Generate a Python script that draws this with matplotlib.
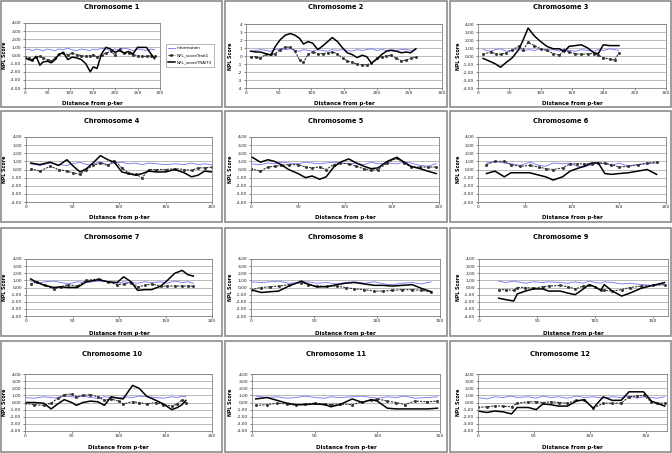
import matplotlib
matplotlib.use('Agg')
import matplotlib.pyplot as plt
from matplotlib.patches import Rectangle
from matplotlib.ticker import FuncFormatter, MultipleLocator

W, H = 672, 453

# ---- data ----
x_chr1 = [0, 8, 16, 25, 33, 40, 50, 58, 67, 75, 85, 95, 105, 115, 125, 135, 145, 152, 160, 170,
          180, 190, 200, 210, 220, 230, 240, 250, 260, 270, 280, 288]
info_chr1 = [0.7, 0.8, 0.6, 0.8, 0.7, 0.6, 0.8, 0.7, 0.6, 0.8, 0.7, 0.9, 0.7, 0.6, 0.8, 0.7, 0.6, 0.8, 0.7, 0.9,
             0.8, 0.6, 0.8, 0.7, 0.9, 0.8, 0.6, 0.8, 0.7, 0.6, 0.8, 0.7]
trait1_chr1 = [-0.2, -0.3, -0.5, -0.2, -0.1, -0.3, -0.5, -0.7, -0.3, 0.2, 0.3, 0.1, 0.3, 0.1, 0.0, -0.1, 0.0, 0.1, -0.2, 0.1,
               0.3, 0.5, 0.1, 0.8, 0.3, 0.3, 0.1, 0.0, -0.1, -0.1, 0.0, -0.1]
trait3_chr1 = [-0.3, -0.5, -0.6, -0.1, -1.2, -0.8, -0.7, -0.9, -0.5, 0.1, 0.4, -0.5, -0.2, -0.3, -0.5, -1.0, -2.0, -1.4, -1.6, 0.2,
               1.0, 0.8, 0.4, 0.6, 0.3, 0.5, 0.2, 1.0, 1.0, 1.0, 0.2, -0.4]

x_chr2 = [7, 15, 22, 30, 38, 45, 52, 60, 68, 75, 82, 88, 95, 102, 110, 118, 125, 132, 140, 148,
          155, 162, 170, 178, 185, 192, 200, 208, 215, 222, 230, 238, 245, 252, 260]
info_chr2 = [0.6, 0.7, 0.8, 0.7, 0.6, 0.8, 0.9, 0.8, 0.9, 0.7, 0.6, 0.8, 0.7, 0.6, 0.8, 0.7, 0.6, 0.8, 0.7, 0.8,
             0.7, 0.6, 0.8, 0.7, 0.8, 0.9, 0.7, 0.8, 0.7, 0.8, 0.7, 0.8, 0.8, 0.7, 0.8]
trait1_chr2 = [-0.1, -0.1, -0.3, 0.2, 0.2, 0.3, 0.8, 1.1, 1.1, 0.6, -0.5, -0.8, 0.2, 0.5, 0.3, 0.3, 0.4, 0.5, 0.3, -0.3,
               -0.6, -0.8, -1.0, -1.1, -1.1, -0.9, -0.3, -0.1, 0.0, 0.1, -0.3, -0.6, -0.5, -0.3, -0.1]
trait3_chr2 = [0.6, 0.5, 0.5, 0.3, 0.1, 1.2, 2.0, 2.6, 2.8, 2.6, 2.2, 1.5, 1.8, 1.6, 0.8, 1.3, 1.8, 2.3, 1.8, 1.0,
               0.4, 0.2, -0.2, 0.1, -0.1, -0.9, -0.4, 0.2, 0.6, 0.7, 0.6, 0.4, 0.5, 0.4, 0.9]

x_chr3 = [8, 20, 28, 36, 45, 55, 65, 72, 80, 90, 100, 110, 120, 130, 138, 145, 155, 165, 175, 185,
          192, 200, 210, 218, 225]
info_chr3 = [0.8, 0.6, 0.8, 0.9, 0.6, 0.7, 0.9, 0.6, 0.8, 0.7, 0.9, 0.7, 0.8, 0.6, 0.9, 0.7, 0.6, 0.8, 0.7, 0.6,
             0.8, 0.7, 0.9, 0.8, 0.7]
trait1_chr3 = [0.2, 0.5, 0.3, 0.2, 0.4, 0.8, 1.2, 0.8, 1.7, 1.3, 0.9, 0.7, 0.3, 0.1, 0.8, 0.5, 0.3, 0.2, 0.3, 0.3,
               0.1, -0.2, -0.4, -0.5, 0.4]
trait3_chr3 = [-0.3, -0.7, -1.0, -1.4, -0.8, -0.2, 0.8, 2.0, 3.5, 2.5, 1.8, 1.2, 0.9, 0.9, 0.5, 1.2, 1.3, 1.4, 1.0, 0.4,
               0.3, 1.4, 1.3, 1.3, 1.3]

x_chr4 = [5, 15, 26, 35, 44, 50, 58, 65, 72, 80, 88, 95, 103, 110, 118, 125, 132, 140, 150, 160,
          170, 178, 185, 192, 200]
info_chr4 = [0.7, 0.5, 0.8, 0.6, 0.5, 0.7, 0.9, 0.6, 0.7, 0.9, 0.6, 0.8, 0.9, 0.7, 0.8, 0.6, 0.8, 0.7, 0.6, 0.7,
             0.6, 0.8, 0.6, 0.7, 0.6]
trait1_chr4 = [0.1, -0.2, 0.4, 0.0, -0.2, -0.4, -0.6, 0.0, 0.5, 0.8, 0.5, 1.1, 0.2, -0.4, -0.6, -1.0, 0.0, 0.0, 0.0, 0.1,
               0.0, -0.1, 0.2, 0.2, 0.3]
trait3_chr4 = [0.8, 0.6, 0.9, 0.5, 1.2, 0.5, -0.3, 0.1, 0.8, 1.7, 1.2, 0.9, -0.3, -0.5, -0.7, -0.5, -0.2, -0.3, -0.3, 0.0,
               -0.4, -0.9, -0.7, -0.2, -0.3]

x_chr5 = [0, 10, 18, 25, 32, 40, 50, 58, 65, 73, 80, 88, 95, 104, 112, 120, 128, 135, 145, 155,
          163, 170, 180, 188, 197]
info_chr5 = [0.7, 0.6, 0.8, 0.7, 0.9, 0.8, 0.7, 0.9, 0.8, 0.7, 0.8, 0.9, 0.8, 0.7, 0.8, 0.6, 0.9, 0.7, 0.8, 0.7,
             0.9, 0.8, 0.5, 0.4, 0.7]
trait1_chr5 = [0.1, -0.2, 0.3, 0.4, 0.5, 0.6, 0.6, 0.3, 0.2, 0.3, 0.0, 0.6, 0.8, 0.7, 0.4, 0.1, -0.1, 0.0, 0.8, 1.4,
               0.8, 0.3, 0.3, 0.3, 0.3]
trait3_chr5 = [1.6, 0.9, 1.2, 1.0, 0.6, 0.0, -0.5, -1.0, -0.8, -1.2, -0.9, 0.3, 0.9, 1.3, 0.8, 0.4, 0.1, 0.2, 1.0, 1.5,
               0.9, 0.4, 0.1, -0.2, -0.5]

x_chr6 = [9, 18, 28, 35, 45, 55, 65, 72, 80, 90, 98, 105, 113, 121, 128, 135, 142, 150, 160, 170, 180, 190]
info_chr6 = [0.8, 1.0, 0.8, 0.7, 0.5, 0.9, 0.5, 0.4, 0.8, 0.7, 0.8, 0.4, 0.3, 0.6, 0.8, 0.7, 0.5, 0.8, 0.4, 0.6,
             0.7, 0.8]
trait1_chr6 = [0.6, 1.0, 1.0, 0.6, 0.4, 0.5, 0.3, 0.1, 0.0, 0.2, 0.7, 0.7, 0.7, 0.7, 0.8, 0.8, 0.6, 0.3, 0.4, 0.6,
               0.8, 0.9]
trait3_chr6 = [-0.5, -0.2, -0.9, -0.4, -0.4, -0.4, -0.7, -0.9, -1.3, -0.9, -0.2, 0.1, 0.4, 0.8, 0.8, -0.5, -0.6, -0.5,
               -0.4, -0.2, 0.0, -0.6]

x_chr7 = [5, 12, 20, 30, 38, 45, 55, 65, 78, 88, 98, 105, 113, 120, 128, 135, 145, 152, 160, 168, 174, 180]
info_chr7 = [0.9, 0.6, 0.8, 0.9, 0.7, 0.5, 0.8, 0.7, 0.9, 0.8, 0.6, 0.8, 0.7, 0.6, 0.8, 0.7, 0.8, 0.6, 0.9, 0.7,
             0.8, 0.6]
trait1_chr7 = [0.5, 0.8, 0.3, -0.2, 0.1, 0.4, 0.2, 1.0, 1.2, 0.8, 0.4, 0.5, 0.7, 0.1, 0.3, 0.5, 0.2, 0.2, 0.2, 0.2,
               0.2, 0.2]
trait3_chr7 = [1.2, 0.7, 0.3, 0.0, 0.1, 0.0, 0.0, 0.8, 1.1, 0.8, 0.7, 1.5, 0.8, -0.4, -0.3, -0.3, 0.2, 1.0, 2.0, 2.4,
               1.8, 1.6]

x_chr8 = [0, 8, 15, 22, 30, 40, 45, 52, 60, 68, 75, 82, 90, 98, 105, 112, 120, 128, 135, 143]
info_chr8 = [0.8, 0.7, 0.8, 0.9, 0.6, 0.7, 0.8, 0.6, 0.7, 0.5, 0.7, 0.8, 0.6, 0.8, 0.5, 0.4, 0.6, 0.7, 0.5, 0.8]
trait1_chr8 = [-0.3, 0.0, 0.1, 0.2, 0.4, 0.7, 0.4, 0.2, 0.2, 0.2, 0.0, -0.2, -0.3, -0.5, -0.5, -0.4, -0.3, -0.3,
               -0.4, -0.6]
trait3_chr8 = [-0.3, -0.7, -0.6, -0.5, 0.2, 0.9, 0.5, 0.1, 0.1, 0.4, 0.6, 0.7, 0.5, 0.3, 0.3, 0.2, 0.3, 0.4, -0.1, -0.6]

x_chr9 = [17, 23, 30, 33, 40, 47, 55, 60, 70, 77, 83, 90, 95, 100, 105, 108, 115, 123, 130, 140, 150, 160]
info_chr9 = [0.9, 0.7, 0.9, 0.8, 0.6, 0.8, 0.7, 0.8, 0.7, 0.6, 0.8, 0.6, 0.9, 0.7, 0.6, 0.8, 0.7, 0.5, 0.6, 0.4,
             0.3, 0.5]
trait1_chr9 = [-0.3, -0.3, -0.4, 0.0, 0.0, -0.1, 0.1, 0.2, 0.3, 0.1, -0.2, 0.2, 0.3, 0.1, -0.3, -0.4, -0.5, -0.3, 0.0,
               0.2, 0.3, 0.4]
trait3_chr9 = [-1.5, -1.7, -1.9, -0.9, -0.5, -0.2, -0.2, -0.5, -0.5, -0.8, -1.0, -0.2, 0.4, 0.1, -0.4, 0.4, -0.5, -1.2,
               -0.8, -0.1, 0.3, 0.7]

x_chr10 = [0, 10, 20, 28, 35, 42, 50, 55, 62, 70, 78, 85, 92, 100, 105, 115, 122, 130, 140, 148, 157, 163, 168, 172]
info_chr10 = [0.7, 0.6, 0.8, 0.7, 0.6, 0.9, 0.8, 0.7, 0.9, 0.7, 0.6, 0.8, 0.7, 0.6, 0.8, 0.7, 0.9, 0.8, 0.7, 0.6,
              0.8, 0.7, 0.9, 0.8]
trait1_chr10 = [-0.1, -0.3, -0.4, -0.1, 0.6, 1.1, 1.2, 0.8, 1.0, 1.1, 0.8, 0.3, 0.5, 0.2, -0.2, 0.1, 0.0, -0.2, 0.0,
                -0.3, -0.5, -0.2, 0.4, 0.0]
trait3_chr10 = [0.0, 0.0, -0.1, -0.9, -0.2, 0.4, 0.0, -0.4, 0.0, 0.2, 0.1, -0.4, 0.8, 0.6, 0.5, 2.4, 2.0, 0.9, 0.3,
                -0.2, -1.0, -0.7, -0.3, 0.3]

x_chr11 = [3, 12, 20, 28, 35, 42, 50, 58, 63, 70, 80, 88, 95, 100, 108, 115, 122, 130, 140, 148]
info_chr11 = [0.9, 0.7, 0.8, 0.6, 0.7, 0.9, 0.7, 0.6, 0.8, 0.7, 0.8, 0.9, 0.7, 0.6, 0.8, 0.7, 0.9, 0.6, 0.7, 0.8]
trait1_chr11 = [-0.4, -0.3, -0.1, -0.2, -0.4, -0.2, -0.1, -0.2, -0.3, -0.2, -0.3, 0.1, 0.3, 0.5, 0.2, 0.0, -0.3, 0.2,
                0.1, 0.2]
trait3_chr11 = [0.5, 0.7, 0.3, -0.1, -0.3, -0.3, -0.2, -0.3, -0.6, -0.3, 0.5, 0.0, 0.4, 0.2, -0.8, -0.9, -0.9, -0.9,
                -0.9, -0.8]

x_chr12 = [0, 8, 15, 22, 30, 35, 45, 52, 58, 65, 72, 80, 88, 95, 103, 112, 120, 128, 135, 142, 148, 155, 160, 167]
info_chr12 = [0.7, 0.5, 0.8, 0.7, 0.9, 0.7, 0.8, 0.6, 0.9, 0.7, 0.8, 0.6, 0.9, 0.7, 0.8, 0.6, 0.8, 0.7, 0.9, 0.6,
              0.8, 0.7, 0.6, 0.8]
trait1_chr12 = [-0.7, -0.6, -0.5, -0.5, -0.6, -0.1, 0.1, 0.1, 0.0, 0.1, 0.0, -0.1, 0.3, 0.3, -0.8, -0.1, -0.1, -0.1,
                0.8, 0.9, 1.0, 0.1, -0.1, -0.1]
trait3_chr12 = [-1.2, -1.4, -1.2, -1.3, -1.6, -0.7, -0.7, -1.0, -0.2, -0.3, -0.5, -0.5, 0.2, 0.4, -0.8, 0.8, 0.3, 0.3,
                1.5, 1.5, 1.5, 0.2, -0.1, -0.5]

x_max = [300, 300, 300, 200, 200, 200, 200, 150, 163, 200, 150, 169]

# plot rectangles in pixels (left, top, right, bottom)
plot_boxes = [(25, 23, 160, 88), (246, 24, 442, 88), (478, 24, 666, 88),
              (26, 137, 212, 202), (251, 137, 439, 202), (478, 137, 666, 202),
              (26, 259, 212, 316), (251, 259, 440, 316), (479, 259, 668, 316),
              (25, 374, 212, 431), (252, 374, 440, 431), (478, 374, 667, 431)]
col_x = [(1, 222), (225, 447), (450, 671)]
row_y = [(1, 107), (111, 222), (228, 336), (341, 452)]
title_y = [7, 121, 237, 354]
xlabel_y = [103, 217, 333, 448]
ylabel_x = [5, 231, 459]

chroms = [
    (x_chr1, info_chr1, trait1_chr1, trait3_chr1),
    (x_chr2, info_chr2, trait1_chr2, trait3_chr2),
    (x_chr3, info_chr3, trait1_chr3, trait3_chr3),
    (x_chr4, info_chr4, trait1_chr4, trait3_chr4),
    (x_chr5, info_chr5, trait1_chr5, trait3_chr5),
    (x_chr6, info_chr6, trait1_chr6, trait3_chr6),
    (x_chr7, info_chr7, trait1_chr7, trait3_chr7),
    (x_chr8, info_chr8, trait1_chr8, trait3_chr8),
    (x_chr9, info_chr9, trait1_chr9, trait3_chr9),
    (x_chr10, info_chr10, trait1_chr10, trait3_chr10),
    (x_chr11, info_chr11, trait1_chr11, trait3_chr11),
    (x_chr12, info_chr12, trait1_chr12, trait3_chr12),
]


def fx(px):
    return px / W


def fy(py):
    return 1 - py / H


comma_fmt = FuncFormatter(lambda v, p: f'{v:.2f}'.replace('.', ','))
int_fmt = FuncFormatter(lambda v, p: f'{v:.0f}')

fig = plt.figure(figsize=(W / 100, H / 100), dpi=100)

for i, (x, info, t1, t3) in enumerate(chroms):
    r, c = divmod(i, 3)
    x0, x1 = col_x[c]
    y0, y1 = row_y[r]
    fig.add_artist(Rectangle((fx(x0), fy(y1)), fx(x1 - x0), (y1 - y0) / H,
                             transform=fig.transFigure, fill=False, edgecolor='#8c8c8c', lw=1.2))
    l, t, rr, b = plot_boxes[i]
    ax = fig.add_axes([fx(l), fy(b), fx(rr - l), (b - t) / H])
    ax.plot(x, info, color='#7070ff', lw=0.6, label='information')
    ax.plot(x, t1, color='#333333', lw=0.8, ls=(0, (2, 1)), marker='s', ms=1.0, label='NPL_scoreTrait1')
    ax.plot(x, t3, color='black', lw=1.1, label='NPL_scoreTRAIT3')
    ax.set_xlim(0, x_max[i])
    ax.set_ylim(-4, 4)
    ax.xaxis.set_major_locator(MultipleLocator(50))
    ax.yaxis.set_major_locator(MultipleLocator(1))
    ax.yaxis.set_major_formatter(int_fmt if i == 1 else comma_fmt)
    ax.grid(axis='y', color='#a0a0a0', lw=0.5)
    ax.set_axisbelow(True)
    for s in ax.spines.values():
        s.set_color('#808080')
        s.set_linewidth(0.6)
    ax.tick_params(labelsize=3.2, length=1.5, width=0.4, pad=1, colors='#222222')
    cx = (x0 + x1) / 2
    fig.text(fx(cx), fy(title_y[r]), f'Chromosome {i + 1}', ha='center', va='center',
             fontsize=4.8, fontweight='bold')
    fig.text(fx((l + rr) / 2), fy(xlabel_y[r]), 'Distance from p-ter', ha='center', va='center',
             fontsize=4.0, fontweight='bold')
    fig.text(fx(ylabel_x[c]), fy((t + b) / 2), 'NPL Score', ha='center', va='center',
             rotation=90, fontsize=3.4, fontweight='bold')
    if i == 0:
        leg = ax.legend(loc='center left', bbox_to_anchor=((166 - l) / (rr - l), 0.5),
                        fontsize=3.0, frameon=True, fancybox=False, edgecolor='#808080',
                        handlelength=1.6, handletextpad=0.4, borderpad=0.5, labelspacing=0.8,
                        borderaxespad=0)
        leg.get_frame().set_linewidth(0.5)

fig.savefig('out.png', dpi=100)
